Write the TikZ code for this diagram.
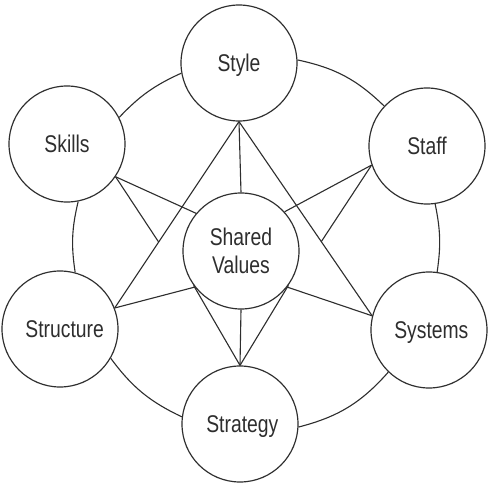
\documentclass[tikz,border=0pt]{standalone}
\usepackage{fontspec}
\setmainfont{Liberation Sans}
\usepackage{graphicx}
\definecolor{ink}{HTML}{2E2E2E}
% labels are set a little taller than the plain face
\newcommand{\tallbox}[1]{\scalebox{1}[1.25]{\begin{tabular}{@{}c@{}}#1\end{tabular}}}
\begin{document}
\begin{tikzpicture}[x=0.03cm, y=0.03cm,
  elem/.style={circle, draw=ink, line width=1pt, fill=white,
    minimum size=3.48cm, inner sep=0pt},
  txt/.style={text=ink, inner sep=0pt, font=\fontsize{16.5}{19}\selectfont,
    yshift=-2.8pt},
  link/.style={draw=ink, line width=0.95pt}]
\useasboundingbox (0,0) rectangle (491,-487);

% the seven elements, each with its name set a touch below centre
\node[elem, label={[txt]center:\tallbox{Style}}]     (sty) at (239,-63)  {};
\node[elem, label={[txt]center:\tallbox{Skills}}]    (skl) at (67,-144)  {};
\node[elem, label={[txt]center:\tallbox{Staff}}]     (stf) at (427,-146) {};
\node[elem, label={[txt, xshift=4pt]center:\tallbox{Structure}}] (stc) at (60,-329)  {};
\node[elem, label={[txt, xshift=2pt]center:\tallbox{Systems}}]   (sys) at (429,-330) {};
\node[elem, label={[txt, xshift=2pt]center:\tallbox{Strategy}}]  (str) at (240,-424) {};
\node[elem, label={[txt]center:\tallbox{Shared\\Values}}] (sv) at (241,-251) {};

% outer ring, clockwise from the top
\draw[link] (sty.3)    to[bend left=16] (stf.137);
\draw[link] (stf.-82)  to[bend left=10] (sys.82);
\draw[link] (sys.-134) to[bend left=17] (str.-3);
\draw[link] (str.173)  to[bend left=14] (stc.-30);
\draw[link] (stc.75)   to[bend left=11] (skl.-79);
\draw[link] (skl.27)   to[bend left=11] (sty.190);

% where the side links stop on the triangle
\coordinate (xl) at (intersection of sty.south--stc.21 and skl.-34--str.north);
\coordinate (xr) at (intersection of sty.south--sys.166 and stf.199--str.north);

% inner links
\draw[link] (sty.south) -- (sv.north);
\draw[link] (sty.south) -- (stc.21);
\draw[link] (sty.south) -- (sys.166);
\draw[link] (skl.-34) -- (sv.140);
\draw[link] (skl.-34) -- (xl);
\draw[link] (stf.199) -- (sv.42);
\draw[link] (stf.199) -- (xr);
\draw[link] (stc.21) -- (sv.218);
\draw[link] (sys.166) -- (sv.-38);
\draw[link] (sv.216) -- (str.north);
\draw[link] (sv.south) -- (str.north);
\draw[link] (sv.-36) -- (str.north);
\end{tikzpicture}
\end{document}
